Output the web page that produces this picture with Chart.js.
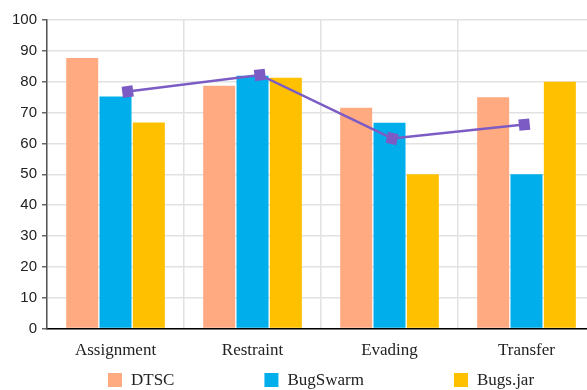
<!DOCTYPE html>
<html>
<head>
<meta charset="utf-8">
<script src="https://cdn.jsdelivr.net/npm/chart.js@4/dist/chart.umd.min.js"></script>
<style>
  html, body { margin: 0; padding: 0; background: #fff; overflow: hidden; }
  canvas { display: block; }
</style>
</head>
<body>
<canvas id="chart" width="595" height="390"></canvas>
<script>
// Categories and series
const categories = ['Assignment', 'Restraint', 'Evading', 'Transfer'];
const dtsc = [87.7, 78.7, 71.6, 75.0];
const bugSwarm = [75.2, 81.9, 66.7, 50.0];
const bugsJar = [66.8, 81.3, 50.0, 80.0];
const average = [76.8, 82.2, 61.6, 66.1];
const yTicks = [0, 10, 20, 30, 40, 50, 60, 70, 80, 90, 100];

const COLORS = {
  dtsc: '#FFAA80',
  bugSwarm: '#00AEEB',
  bugsJar: '#FFC000',
  line: '#7C5CC4'
};

// Legend for the bar series, centred under the plot area
const seriesLegend = {
  id: 'seriesLegend',
  afterDraw(chart, args, opts) {
    const ctx = chart.ctx;
    const items = chart.data.datasets.filter(d => d.type === 'bar');
    ctx.save();
    ctx.font = opts.font;
    ctx.textBaseline = 'middle';
    ctx.textAlign = 'left';
    const widths = items.map(d => opts.box + opts.textGap + ctx.measureText(d.label).width);
    const total = widths.reduce((a, b) => a + b, 0) + opts.gap * (items.length - 1);
    const area = chart.chartArea;
    let x = (area.left + area.right) / 2 - total / 2;
    const y = chart.height - opts.bottom;
    items.forEach((d, i) => {
      ctx.fillStyle = d.backgroundColor;
      ctx.fillRect(x, y - opts.box / 2, opts.box, opts.box);
      ctx.fillStyle = opts.color;
      ctx.fillText(d.label, x + opts.box + opts.textGap, y + 1);
      x += widths[i] + opts.gap;
    });
    ctx.restore();
  }
};

// The trend line is drawn slightly narrower than the category grid,
// squeezed horizontally about the middle of the plot area
const lineSqueeze = {
  id: 'lineSqueeze',
  beforeDatasetDraw(chart, args, opts) {
    if (chart.data.datasets[args.index].type !== 'line') return;
    const area = chart.chartArea;
    const cx = (area.left + area.right) / 2;
    const ctx = chart.ctx;
    ctx.save();
    ctx.translate(cx + opts.shift, 0);
    ctx.scale(opts.factor, 1);
    ctx.translate(-cx, 0);
  },
  afterDatasetDraw(chart, args) {
    if (chart.data.datasets[args.index].type !== 'line') return;
    chart.ctx.restore();
  }
};

new Chart(document.getElementById('chart'), {
  type: 'bar',
  data: {
    labels: categories,
    datasets: [
      { type: 'bar', label: 'DTSC', data: dtsc, backgroundColor: COLORS.dtsc, order: 1 },
      { type: 'bar', label: 'BugSwarm', data: bugSwarm, backgroundColor: COLORS.bugSwarm, order: 1 },
      { type: 'bar', label: 'Bugs.jar', data: bugsJar, backgroundColor: COLORS.bugsJar, order: 1 },
      {
        type: 'line',
        label: 'Average',
        data: average,
        borderColor: COLORS.line,
        backgroundColor: COLORS.line,
        borderWidth: 2.5,
        tension: 0,
        pointStyle: 'rect',
        pointRadius: 8,
        pointHoverRadius: 8,
        pointRotation: [-7, -7, 12, -6],
        pointBorderWidth: 0,
        order: 0
      }
    ]
  },
  options: {
    responsive: false,
    animation: false,
    layout: { padding: { left: 7, top: 20, right: 0, bottom: 17 }, autoPadding: false },
    datasets: {
      bar: { categoryPercentage: 0.73, barPercentage: 0.96 }
    },
    plugins: {
      legend: { display: false },
      tooltip: { enabled: false },
      lineSqueeze: { factor: 0.965, shift: 5 },
      seriesLegend: {
        font: '17px "Liberation Serif", "Times New Roman", serif',
        color: '#222',
        box: 14,
        textGap: 9,
        gap: 90,
        bottom: 10
      }
    },
    scales: {
      x: {
        type: 'category',
        offset: true,
        grid: { offset: true, color: '#e2e2e2', lineWidth: 1.5, drawTicks: false },
        border: { color: '#000', width: 1.5 },
        ticks: {
          color: '#222',
          padding: 12,
          font: { family: '"Liberation Serif", "Times New Roman", serif', size: 17 }
        }
      },
      y: {
        min: 0,
        max: 100,
        afterBuildTicks: s => { s.ticks = yTicks.map(v => ({ value: v })); },
        grid: { color: '#e2e2e2', lineWidth: 1.5, tickLength: 5, tickColor: '#666' },
        border: { color: '#555', width: 1.5 },
        ticks: {
          color: '#222',
          padding: 5,
          font: { family: '"Liberation Sans", Arial, sans-serif', size: 15 }
        }
      }
    }
  },
  plugins: [seriesLegend, lineSqueeze]
});
</script>
</body>
</html>
